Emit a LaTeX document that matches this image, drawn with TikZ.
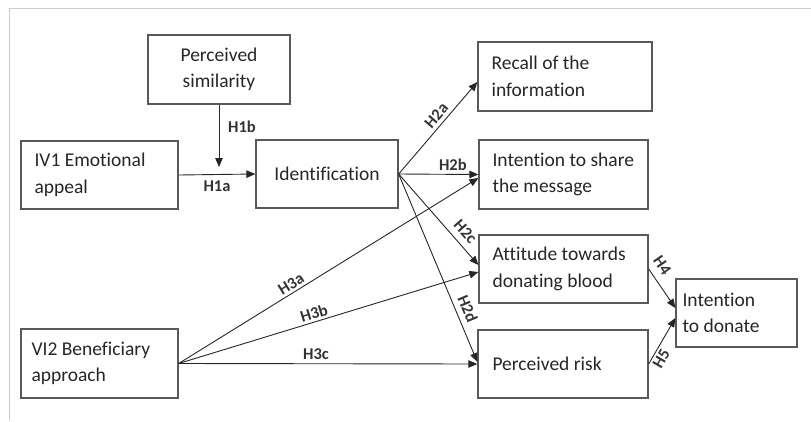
\documentclass[tikz,border=0pt]{standalone}
\usepackage{fontspec}
\setmainfont{Carlito}[Ligatures=NoCommon]
\usetikzlibrary{arrows.meta,calc}
\begin{document}
\begin{tikzpicture}[x=1pt,y=-1pt,
  box/.style={draw=black!65,line width=1.3pt,inner sep=0pt},
  boxtext/.style={anchor=west,inner sep=0pt,align=left,
    font=\fontsize{19.5}{26.5}\selectfont,text=black!85},
  link/.style={draw=black!85,line width=0.9pt,-{Triangle[length=9pt,width=7.5pt]}},
  hyp/.style={font=\bfseries\fontsize{16.5}{19}\selectfont,text=black!80,inner sep=1.5pt},
  frameline/.style={draw=black!20,line width=1pt}]
\useasboundingbox (0,0) rectangle (811,421);
% page frame
\draw[frameline] (9,421) -- (9,8) -- (811,8);

% boxes
\node[box,minimum width=142pt,minimum height=69pt] (sim) at (219,69.5) {};
\node[boxtext,anchor=center,align=center] (simtxt) at (sim.center) {Perceived\\similarity};
\node[box,minimum width=174pt,minimum height=69pt] (recall) at (565,76.5) {};
\node[boxtext] (recalltxt) at ($(recall.west)+(14,0)$) {Recall of the\\information};
\node[box,minimum width=157pt,minimum height=68pt] (iv1) at (99.5,175) {};
\node[boxtext] (iv1txt) at ($(iv1.west)+(14,0)$) {IV1 Emotional\\appeal};
\node[box,minimum width=142pt,minimum height=68pt] (ident) at (327,174) {};
\node[boxtext,anchor=center] (identtxt) at (ident.center) {Identification};
\node[box,minimum width=169pt,minimum height=69pt] (share) at (563.5,174.5) {};
\node[boxtext] (sharetxt) at ($(share.west)+(14,0)$) {Intention to share\\the message};
\node[box,minimum width=169pt,minimum height=68pt] (att) at (563.5,269) {};
\node[boxtext] (atttxt) at ($(att.west)+(14,0)$) {Attitude towards\\donating blood};
\node[box,minimum width=121pt,minimum height=68pt] (donate) at (736.5,313) {};
\node[boxtext] (donatetxt) at ($(donate.west)+(7,0)$) {Intention\\to donate};
\node[box,minimum width=157pt,minimum height=69pt] (vi2) at (99.5,363.5) {};
\node[boxtext] (vi2txt) at ($(vi2.west)+(11,0)$) {VI2 Beneficiary\\approach};
\node[box,minimum width=170pt,minimum height=68pt] (risk) at (563,364) {};
\node[boxtext] (risktxt) at ($(risk.west)+(15,0)$) {Perceived risk};

% moderation and main path
\coordinate (mod) at (219,167);
\draw[link] (sim.south) -- (mod);
\node[hyp] (h1b) at (242,127) {H1b};
\draw[link] (iv1.east) -- node[hyp,below=4pt] {H1a} (ident.west);

% identification outcomes
\draw[link] (ident.east) -- node[hyp,sloped,above=2pt,pos=0.57] {H2a} ($(recall.west)+(0,5.5)$);
\draw[link] (ident.east) -- node[hyp,above=2pt,pos=0.68] {H2b} (share.west);
\draw[link] (ident.east) -- node[hyp,sloped,above=5pt,pos=0.72] {H2c} ($(att.west)+(0,-4)$);
\draw[link] (ident.east) -- node[hyp,sloped,above=4pt,pos=0.74] {H2d} ($(risk.west)+(0,-2)$);

% beneficiary approach outcomes
\draw[link] (vi2.east) -- node[hyp,sloped,above=1pt,pos=0.39] {H3a} ($(share.west)+(0,3.5)$);
\draw[link] (vi2.east) -- node[hyp,sloped,above=1pt,pos=0.46] {H3b} ($(att.west)+(0,3)$);
\draw[link] (vi2.east) -- node[hyp,above=2pt,pos=0.46] {H3c} (risk.west);

% paths to intention to donate
\draw[link] (att.east) -- node[hyp,sloped,above=6pt,pos=0.1] {H4} ($(donate.west)+(0,-5)$);
\draw[link] (risk.east) -- node[hyp,sloped,below=1pt,pos=0.2] {H5} ($(donate.west)+(0,5)$);
\end{tikzpicture}
\end{document}
